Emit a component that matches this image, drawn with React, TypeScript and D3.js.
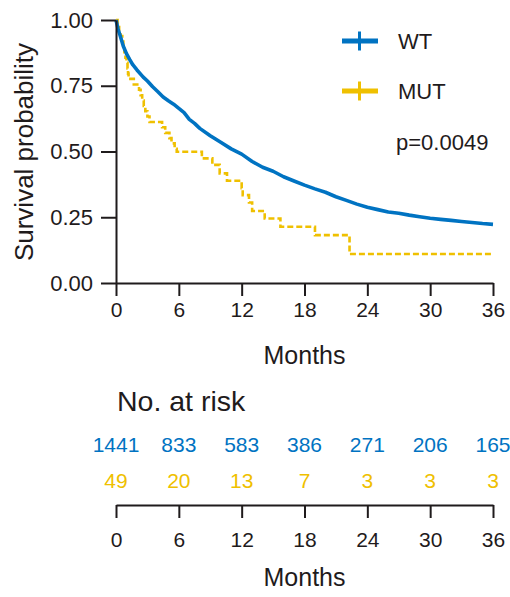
import * as d3 from 'd3';
import { useEffect, useRef } from 'react';

const wtColor = '#0073C2';
const mutColor = '#EFC000';
const inkColor = '#1f1b1c';
const fontFamily = '"Liberation Sans", Arial, Helvetica, sans-serif';

const monthTicks = [0, 6, 12, 18, 24, 30, 36];
const survivalTicks = [0, 0.25, 0.5, 0.75, 1];

// WT (n=1441)
const wtMonths = [0, 0.2, 0.4, 0.7, 1, 1.3, 1.6, 2, 2.6, 3, 3.5, 4, 4.5, 5, 5.5, 6, 6.5, 7, 7.5, 8, 9, 10, 11, 12, 13, 14, 15, 16, 17, 18, 19, 20, 21, 22, 23, 24, 25, 26, 27, 28, 29, 30, 31, 32, 33, 34, 35, 36];
const wtSurvival = [1, 0.965, 0.94, 0.9, 0.872, 0.85, 0.83, 0.81, 0.783, 0.768, 0.746, 0.727, 0.707, 0.693, 0.68, 0.664, 0.648, 0.622, 0.607, 0.588, 0.56, 0.535, 0.51, 0.49, 0.462, 0.44, 0.425, 0.404, 0.388, 0.372, 0.358, 0.345, 0.328, 0.314, 0.3, 0.288, 0.279, 0.27, 0.265, 0.258, 0.252, 0.246, 0.242, 0.238, 0.234, 0.23, 0.226, 0.223];

// MUT (n=49) - step function
const mutMonths = [0, 0.15, 0.3, 0.45, 0.6, 0.7, 0.8, 0.9, 1, 1.1, 1.15, 1.2, 1.7, 2.2, 2.35, 2.5, 2.65, 2.8, 3, 3.2, 4.4, 4.7, 5.1, 5.3, 5.6, 5.8, 8.2, 9.2, 9.9, 10.6, 12, 12.1, 12.7, 13, 14.2, 15.7, 19, 22.3, 36];
const mutSurvival = [1, 0.98, 0.959, 0.939, 0.918, 0.898, 0.878, 0.857, 0.837, 0.816, 0.796, 0.776, 0.755, 0.735, 0.714, 0.694, 0.673, 0.653, 0.633, 0.612, 0.592, 0.571, 0.551, 0.531, 0.51, 0.499, 0.474, 0.449, 0.417, 0.389, 0.36, 0.334, 0.306, 0.274, 0.245, 0.214, 0.182, 0.11, 0.11];

const wtAtRisk = [1441, 833, 583, 386, 271, 206, 165];
const mutAtRisk = [49, 20, 13, 7, 3, 3, 3];

const legendLabels = ['WT', 'MUT'];
const pValueLabel = 'p=0.0049';

const width = 510;
const height = 597;

const App = () => {
  const svgRef = useRef<SVGSVGElement | null>(null);

  useEffect(() => {
    if (!svgRef.current) return;
    const svg = d3.select(svgRef.current);
    svg.selectAll('*').remove();

    const x = d3.scaleLinear().domain([0, 36]).range([116, 493]);
    const y = d3.scaleLinear().domain([0, 1]).range([283, 20]);

    const styleAxis = (group: any, fontSize: number) => {
      group.selectAll('path, line').attr('stroke', inkColor).attr('stroke-width', 2);
      group
        .selectAll('text')
        .attr('fill', inkColor)
        .style('font-size', `${fontSize}px`)
        .style('font-family', fontFamily);
    };

    // survival curves
    const wt = wtMonths.map((month, index) => ({ month, value: wtSurvival[index] }));
    const mut = mutMonths.map((month, index) => ({ month, value: mutSurvival[index] }));

    const smoothLine = d3
      .line<{ month: number; value: number }>()
      .x((d) => x(d.month))
      .y((d) => y(d.value))
      .curve(d3.curveLinear);

    const stepLine = d3
      .line<{ month: number; value: number }>()
      .x((d) => x(d.month))
      .y((d) => y(d.value))
      .curve(d3.curveStepAfter);

    svg
      .append('path')
      .datum(mut)
      .attr('fill', 'none')
      .attr('stroke', mutColor)
      .attr('stroke-width', 2.6)
      .attr('stroke-dasharray', '6 3')
      .attr('d', stepLine);

    svg
      .append('path')
      .datum(wt)
      .attr('fill', 'none')
      .attr('stroke', wtColor)
      .attr('stroke-width', 3.6)
      .attr('stroke-linejoin', 'round')
      .attr('d', smoothLine);

    // axes
    svg
      .append('g')
      .attr('transform', 'translate(116,0)')
      .call(
        d3
          .axisLeft(y)
          .tickValues(survivalTicks)
          .tickFormat(d3.format('.2f'))
          .tickSize(15)
          .tickSizeOuter(0)
          .tickPadding(8)
      )
      .call((group) => styleAxis(group, 22));

    svg
      .append('g')
      .attr('transform', 'translate(0,283)')
      .call(d3.axisBottom(x).tickValues(monthTicks).tickSize(13).tickSizeOuter(0).tickPadding(6))
      .call((group) => styleAxis(group, 21));

    svg
      .append('text')
      .attr('transform', 'translate(33,152) rotate(-90)')
      .attr('text-anchor', 'middle')
      .attr('fill', inkColor)
      .style('font-size', '26px')
      .style('font-family', fontFamily)
      .text('Survival probability');

    svg
      .append('text')
      .attr('x', x(18))
      .attr('y', 364)
      .attr('text-anchor', 'middle')
      .attr('fill', inkColor)
      .style('font-size', '25px')
      .style('font-family', fontFamily)
      .text('Months');

    // legend
    const legend = svg.append('g');
    [wtColor, mutColor].forEach((color, index) => {
      const cy = 41 + index * 50;
      legend
        .append('line')
        .attr('x1', 342)
        .attr('x2', 378)
        .attr('y1', cy)
        .attr('y2', cy)
        .attr('stroke', color)
        .attr('stroke-width', 5);
      legend
        .append('line')
        .attr('x1', 359.5)
        .attr('x2', 359.5)
        .attr('y1', cy - 9.5)
        .attr('y2', cy + 9.5)
        .attr('stroke', color)
        .attr('stroke-width', 3);
      legend
        .append('text')
        .attr('x', 398)
        .attr('y', cy + 8)
        .attr('fill', inkColor)
        .style('font-size', '22px')
        .style('font-family', fontFamily)
        .text(legendLabels[index]);
    });

    legend
      .append('text')
      .attr('x', 396)
      .attr('y', 150)
      .attr('fill', inkColor)
      .style('font-size', '22px')
      .style('font-family', fontFamily)
      .text(pValueLabel);

    // risk table
    svg
      .append('text')
      .attr('x', 117)
      .attr('y', 411)
      .attr('fill', inkColor)
      .style('font-size', '28.5px')
      .style('font-family', fontFamily)
      .text('No. at risk');

    [
      { counts: wtAtRisk, color: wtColor, baseline: 452 },
      { counts: mutAtRisk, color: mutColor, baseline: 488 },
    ].forEach((row) => {
      svg
        .append('g')
        .selectAll('text')
        .data(row.counts)
        .join('text')
        .attr('x', (_, index) => x(monthTicks[index]))
        .attr('y', row.baseline)
        .attr('text-anchor', 'middle')
        .attr('fill', row.color)
        .style('font-size', '21px')
        .style('font-family', fontFamily)
        .text((count) => count);
    });

    svg
      .append('g')
      .attr('transform', 'translate(0,505)')
      .call(d3.axisBottom(x).tickValues(monthTicks).tickSize(13).tickSizeOuter(0).tickPadding(14))
      .call((group) => styleAxis(group, 21));

    svg
      .append('text')
      .attr('x', x(18))
      .attr('y', 586)
      .attr('text-anchor', 'middle')
      .attr('fill', inkColor)
      .style('font-size', '25px')
      .style('font-family', fontFamily)
      .text('Months');
  }, []);

  return (
    <svg
      ref={svgRef}
      width={width}
      height={height}
      style={{ position: 'absolute', left: 0, top: 0, background: '#ffffff' }}
    />
  );
};

export default App;
